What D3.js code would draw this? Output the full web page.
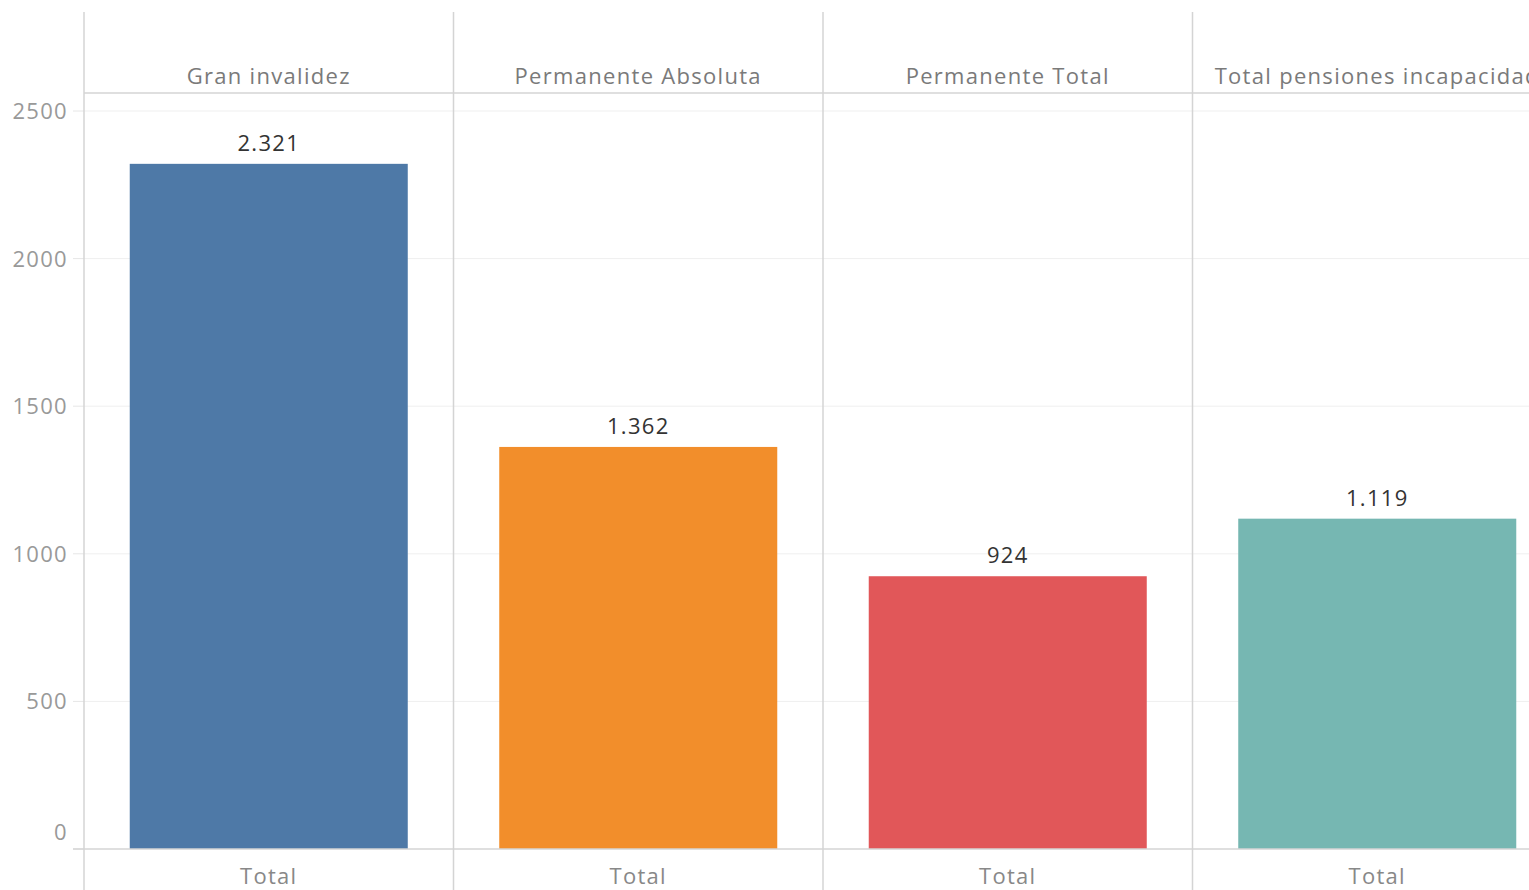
<!DOCTYPE html>
<html><head><meta charset="utf-8">
<script src="https://cdn.jsdelivr.net/npm/d3@7"></script>
<style>
html,body{margin:0;padding:0;background:#fff;}
svg{display:block;font-family:"Open Sans",sans-serif;}
</style></head>
<body>
<svg id="chart" width="1529" height="890"></svg>
<script>
const categories = ["Gran invalidez", "Permanente Absoluta", "Permanente Total", "Total pensiones incapacidad"];
const values = [2321, 1362, 924, 1119];
const colors = ["#4e79a7", "#f28e2b", "#e15759", "#76b7b2"];
const valueLabels = ["2.321", "1.362", "924", "1.119"];
const rowLabel = "Total";
const yTicks = [0, 500, 1000, 1500, 2000, 2500];

(function(){
const svg = d3.select("#chart");
const left = 84, colStep = 369.5, headerY = 93, base = 849;
const x = d3.scaleBand().domain(categories).range([left, left + colStep * categories.length])
  .paddingInner(0.2476).paddingOuter(0.1238);
const y = d3.scaleLinear().domain([0, 2500]).range([base, 111]);

const W = 1529;
svg.append("g").selectAll("line").data(yTicks.filter(d => d > 0)).join("line")
  .attr("x1", left).attr("x2", W).attr("y1", d => y(d)).attr("y2", d => y(d))
  .attr("stroke", "#efefef").attr("stroke-width", 1);
svg.append("g").selectAll("line").data(yTicks).join("line")
  .attr("x1", 73).attr("x2", left).attr("y1", d => y(d)).attr("y2", d => y(d))
  .attr("stroke", "#e6e6e6").attr("stroke-width", 1);

svg.append("g").selectAll("rect").data(categories).join("rect")
  .attr("x", d => x(d)).attr("width", x.bandwidth())
  .attr("y", (d, i) => y(values[i])).attr("height", (d, i) => base - y(values[i]))
  .attr("fill", (d, i) => colors[i]);

const lineC = "#d4d4d4";
svg.append("line").attr("x1", left).attr("x2", W).attr("y1", headerY).attr("y2", headerY).attr("stroke", lineC).attr("stroke-width", 1.5);
svg.append("line").attr("x1", 73).attr("x2", W).attr("y1", base).attr("y2", base).attr("stroke", lineC).attr("stroke-width", 1.5);
const dividers = [left].concat(categories.slice(1).map(c => x(c) - x.step() * x.paddingInner() / 2));
svg.append("g").selectAll("line").data(dividers).join("line")
  .attr("x1", d => d).attr("x2", d => d).attr("y1", 12).attr("y2", 890)
  .attr("stroke", lineC).attr("stroke-width", 1.5);

const fs = 22, ls = 1.3;
svg.append("g").selectAll("text").data(categories).join("text")
  .attr("x", d => x(d) + x.bandwidth() / 2).attr("y", 84)
  .attr("text-anchor", "middle").attr("fill", "#7a7a7a").attr("font-size", fs)
  .attr("letter-spacing", ls).text(d => d);

svg.append("g").selectAll("text").data(categories).join("text")
  .attr("x", d => x(d) + x.bandwidth() / 2).attr("y", 884)
  .attr("text-anchor", "middle").attr("fill", "#888").attr("font-size", fs)
  .attr("letter-spacing", ls).text(rowLabel);

svg.append("g").selectAll("text").data(categories).join("text")
  .attr("x", d => x(d) + x.bandwidth() / 2).attr("y", (d, i) => y(values[i]) - 13)
  .attr("text-anchor", "middle").attr("fill", "#333").attr("font-size", fs)
  .attr("letter-spacing", ls).text((d, i) => valueLabels[i]);

svg.append("g").selectAll("text").data(yTicks).join("text")
  .attr("x", 68).attr("y", d => d === 0 ? y(d) - 9 : y(d) + 8)
  .attr("text-anchor", "end").attr("fill", "#999").attr("font-size", fs)
  .attr("letter-spacing", ls).text(d => d);
})();
</script>
</body></html>
